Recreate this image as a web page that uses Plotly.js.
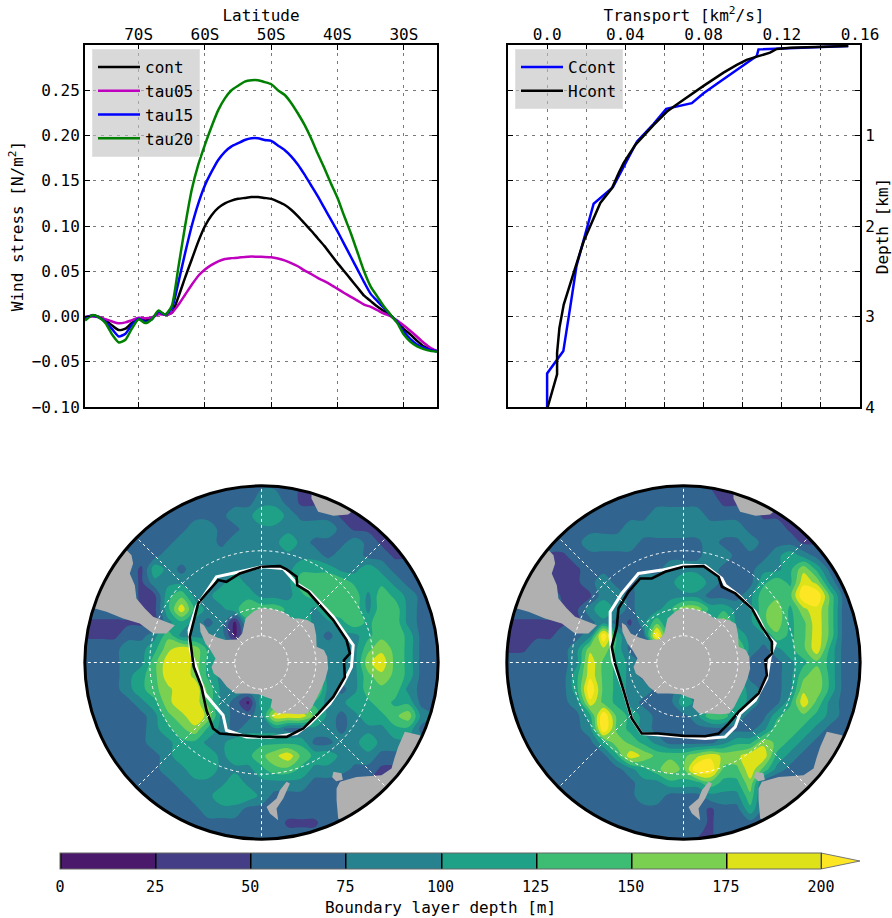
<!DOCTYPE html>
<html><head><meta charset="utf-8">
<script src="https://cdn.plot.ly/plotly-3.0.1.min.js"></script>
<style>html,body{margin:0;padding:0;background:#fff}</style></head>
<body><div id="c" style="width:892px;height:918px"></div>
<script>
// ---- wind stress panel ----
const lat=[-78.1,-77,-76,-75,-74,-73,-72,-71,-70,-69,-68,-67,-66,-65,-64,-63,-62,-61,-60,-59,-58,-57,-56,-55,-54,-53,-52,-51,-50,-49,-48,-47,-46,-45,-44,-43,-42,-41,-40,-39,-38,-37,-36,-35,-34,-33,-32,-31,-30,-29,-28,-27,-26,-25];
const cont=[-.001,.001,-.0005,-.004,-.01,-.015,-.0135,-.007,-.002,-.0045,-.002,.0045,.002,.004,.022,.043,.063,.083,.10,.112,.12,.125,.128,.13,.131,.132,.132,.131,.130,.127,.1235,.118,.111,.103,.095,.0865,.078,.0685,.059,.05,.041,.032,.023,.017,.011,.006,.001,-.006,-.014,-.02,-.027,-.033,-.036,-.0385];
const tau05=[-.0005,0,-.0005,-.003,-.0055,-.0075,-.0065,-.004,-.0015,-.002,-.001,.0025,.002,.004,.013,.024,.035,.045,.052,.057,.061,.0636,.0645,.065,.0658,.0662,.066,.0658,.0654,.064,.062,.059,.0555,.051,.047,.0426,.039,.035,.0305,.026,.0217,.0176,.013,.0107,.007,.0033,.0004,-.0044,-.01,-.016,-.0224,-.029,-.0345,-.038];
const tau15=[-.002,.001,-.001,-.006,-.014,-.022,-.019,-.009,-.0025,-.006,-.003,.0055,.002,.009,.038,.07,.10,.125,.145,.16,.173,.182,.188,.1915,.195,.197,.197,.195,.194,.189,.184,.177,.168,.157,.145,.133,.12,.107,.094,.08,.066,.052,.038,.025,.017,.0095,.0015,-.006,-.017,-.025,-.031,-.0345,-.037,-.0385];
const tau20=[-.0045,.0015,-.001,-.0073,-.02,-.0287,-.0257,-.013,-.003,-.0073,-.003,.0066,.002,.012,.055,.10,.14,.168,.19,.21,.228,.241,.25,.255,.2595,.261,.261,.259,.2566,.25,.245,.236,.2246,.212,.197,.18,.164,.147,.131,.111,.092,.071,.05,.033,.022,.011,.002,-.007,-.02,-.028,-.033,-.036,-.038,-.039];
const latTicks=[-70,-60,-50,-40,-30];
const latLabels=['70S','60S','50S','40S','30S'];
const stressTicks=[-.1,-.05,0,.05,.1,.15,.2,.25];
const stressLabels=['\u22120.10','\u22120.05','0.00','0.05','0.10','0.15','0.20','0.25'];
// ---- transport panel ----
const ccontX=[.154,.1174,.1081,.1072,.0979,.0885,.08,.074,.0609,.0545,.046,.0391,.0337,.0238,.0187,.015,.0119,.0083,0,0];
const ccontD=[.011,.037,.048,.121,.257,.404,.533,.643,.706,.871,1.066,1.342,1.57,1.754,2.15,2.445,2.886,3.382,3.629,4];
const hcontX=[.154,.1243,.1174,.114,.1072,.102,.097,.0902,.08,.0732,.0672,.0613,.0545,.0451,.0391,.0366,.0332,.0272,.0238,.0187,.0157,.0119,.0085,.0063,.0051,.0051,.0017,.0003];
const hcontD=[.011,.03,.044,.085,.129,.165,.22,.305,.452,.551,.643,.735,.882,1.103,1.305,1.415,1.581,1.746,1.912,2.169,2.371,2.647,2.868,3.125,3.4,3.64,3.88,4];
const transportTicks=[0,.04,.08,.12,.16];
const transportLabels=['0.0','0.04','0.08','0.12','0.16'];
const transportMinor=[.02,.06,.1,.14];
const depthTicks=[1,2,3,4];
const depthLabels=['1','2','3','4'];
const depthMinor=[.5,1.5,2.5,3.5];
// ---- maps: boundary layer depth [m] on a polar-stereographic grid ----
const gridX=[-13.5,-12,-11,-10,-9,-8,-7,-6,-5,-4,-3,-2,-1,0,1,2,3,4,5,6,7,8,9,10,11,12,13.5];
const gridY=gridX;
const depthLeft=[
[66,66,66,66,66,66,66,66,66,66,66,66,66,66,66,66,45,45,45,45,45,45,45,45,45,45,45],
[66,66,66,66,66,66,66,66,66,66,66,66,66,92,92,66,45,45,45,45,45,45,45,45,45,45,45],
[66,66,66,66,66,66,66,66,66,66,66,92,92,118,118,92,66,66,66,45,45,45,45,45,45,45,45],
[66,66,66,66,66,66,66,66,92,92,66,66,92,92,92,92,92,92,92,66,45,45,45,45,45,45,45],
[66,66,66,66,66,66,66,92,92,92,66,92,92,92,92,118,92,66,66,66,92,66,45,45,45,45,45],
[66,66,66,66,66,66,92,92,92,92,92,92,92,92,92,92,92,92,66,92,92,66,66,45,45,45,45],
[66,66,66,66,45,118,92,66,92,92,92,92,92,92,92,92,118,118,118,92,92,118,92,66,66,45,45],
[66,66,66,66,45,92,92,92,92,92,92,118,92,92,92,92,143,143,143,143,118,118,118,92,66,66,45],
[66,66,66,66,45,45,118,143,92,92,118,118,118,92,92,92,118,143,143,143,143,92,143,118,92,66,66],
[66,66,66,66,45,45,118,193,118,92,92,118,143,143,143,118,118,92,143,143,143,92,143,143,92,66,66],
[45,45,45,45,45,45,92,118,92,66,92,17,118,118,118,118,118,92,92,118,143,118,143,143,92,66,66],
[45,45,45,66,66,92,143,92,92,92,92,17,92,92,92,92,92,92,66,92,92,118,143,143,118,66,66],
[66,66,66,92,92,118,168,193,168,118,92,92,92,92,92,92,92,92,92,92,92,143,168,143,118,66,66],
[66,66,66,92,92,143,193,193,168,118,92,92,92,92,92,92,92,118,92,92,92,168,193,143,118,66,66],
[66,66,66,92,118,143,193,193,168,118,92,92,92,92,92,92,92,143,92,92,92,143,168,143,118,66,66],
[66,66,66,92,118,143,168,193,193,143,92,92,92,92,92,92,92,168,92,66,92,143,143,143,92,66,66],
[66,66,66,66,92,118,168,193,193,143,92,66,17,118,118,118,118,118,92,92,118,118,143,118,118,66,66],
[66,66,66,66,66,92,143,168,193,168,92,66,66,92,193,193,193,143,92,66,92,118,118,143,168,92,66],
[66,66,66,66,66,92,118,143,168,118,92,66,92,92,92,66,66,92,92,66,92,92,92,118,118,66,66],
[66,66,66,66,66,92,92,118,118,92,92,118,118,118,118,118,118,66,66,92,92,118,92,92,92,92,92],
[66,66,66,66,66,66,92,118,118,118,92,118,118,143,168,193,143,118,118,92,92,92,66,66,66,66,66],
[66,66,66,66,66,66,92,92,118,118,92,92,92,118,143,143,118,92,92,92,66,66,45,45,66,66,66],
[66,66,66,66,66,66,66,92,92,92,92,118,92,92,92,92,92,66,66,45,45,45,45,45,45,45,45],
[66,66,66,66,66,66,66,66,92,92,118,118,118,92,66,66,66,66,66,66,45,45,45,45,45,45,45],
[66,66,66,66,66,66,66,66,66,92,92,92,66,66,66,66,66,66,66,66,66,66,66,66,66,66,66],
[66,66,66,66,66,66,66,66,66,66,66,66,66,66,66,45,45,45,66,66,66,66,66,66,66,66,66],
[66,66,66,66,66,66,66,66,66,66,66,66,66,66,66,66,66,66,66,66,66,66,66,66,66,66,66]];
const depthRight=[
[66,66,66,66,66,66,66,66,66,66,66,66,66,66,66,45,45,45,45,45,45,45,45,45,45,45,45],
[66,66,66,66,66,66,66,66,66,66,66,66,66,66,66,66,45,45,45,45,45,45,45,45,45,45,45],
[66,66,66,66,66,66,66,66,66,66,66,92,92,92,92,66,66,66,66,45,45,45,45,45,45,45,45],
[66,66,66,66,66,66,66,66,66,92,92,92,92,92,92,92,92,92,66,66,66,45,45,45,45,45,45],
[66,66,66,66,66,66,92,92,92,92,66,66,66,66,66,92,66,66,92,66,66,66,45,45,45,45,45],
[66,66,66,45,45,66,66,66,66,66,66,66,66,66,66,92,92,66,66,66,92,118,92,66,45,45,45],
[66,66,66,45,45,45,66,66,66,66,66,66,92,92,92,92,66,66,66,92,92,118,168,118,66,45,45],
[66,66,66,45,45,45,66,92,66,66,92,92,92,118,118,92,66,66,66,118,143,118,193,168,92,45,45],
[66,66,66,66,45,45,45,92,92,66,92,92,92,92,92,66,66,66,92,143,143,143,225,225,143,66,45],
[66,66,66,66,45,45,92,118,92,66,92,92,118,168,168,118,118,92,92,143,168,118,168,193,143,66,45],
[45,45,45,45,45,45,66,92,66,45,92,143,92,92,92,92,168,92,92,143,168,118,143,193,143,66,45],
[45,45,45,45,66,66,92,225,118,66,66,225,92,92,92,92,92,118,92,92,143,118,143,193,143,66,45],
[45,45,66,66,66,92,168,168,118,66,66,66,92,92,92,92,92,168,92,66,92,118,143,193,118,66,45],
[66,66,66,66,66,92,193,143,118,92,66,66,66,92,92,92,92,143,66,66,66,92,118,143,118,66,66],
[66,66,66,66,66,118,193,143,118,92,66,66,66,92,92,92,92,118,66,66,66,92,143,168,118,66,66],
[66,66,66,66,66,118,225,143,118,92,92,66,66,92,92,92,92,118,92,66,66,92,168,168,118,66,66],
[66,66,66,66,66,92,193,143,118,92,66,66,66,118,92,92,92,118,92,66,66,118,193,143,92,66,66],
[66,66,66,66,66,66,118,225,143,118,92,66,66,66,92,143,143,92,66,66,118,143,143,118,92,66,66],
[66,66,66,66,66,66,92,225,143,118,92,66,66,66,66,66,66,66,66,92,143,143,118,92,66,66,66],
[66,66,66,66,66,66,66,118,168,143,118,92,66,66,66,66,92,118,118,168,143,118,92,66,66,66,66],
[66,66,66,66,66,66,66,66,118,193,168,143,143,143,168,193,168,168,193,193,118,92,66,66,66,66,66],
[66,66,66,66,66,66,66,66,66,92,118,143,168,143,225,225,143,143,193,143,92,66,66,66,66,66,66],
[66,66,66,66,66,66,66,66,66,66,92,92,118,118,118,143,118,118,168,66,45,45,45,45,45,45,45],
[66,66,66,66,66,66,66,66,66,66,92,92,66,66,66,92,92,92,143,66,45,45,45,45,45,45,45],
[66,66,66,66,66,66,66,66,66,66,66,66,66,66,66,45,66,66,118,66,66,66,66,66,66,66,66],
[66,66,66,66,66,66,66,66,66,66,66,66,66,66,66,45,66,66,66,66,66,66,66,66,66,66,66],
[66,66,66,66,66,66,66,66,66,66,66,45,45,45,45,45,66,66,66,66,66,66,66,66,66,66,66]];
const levelColors=['#4a196c','#433e85','#31648e','#26828e','#1fa187','#3dbc74','#7ad151','#dde318','#fde725'];
const barTicks=[0,25,50,75,100,125,150,175,200];
// coastlines, map units
const antX=[0,.93,1.68,2.3,2.8,3.43,3.93,4.1,4.13,4.68,4.93,5,4.8,4.55,4.18,3.8,3.43,2.8,1.93,1.18,.68,.8,.3,-.2,-1.08,-1.95,-2.58,-3.08,-3.58,-3.75,-3.45,-3.83,-4.2,-4.58,-4.63,-4.33,-3.95,-3.33,-2.7,-1.83,-1.45,-1.2,-.58,0];
const antY=[-4.08,-3.98,-3.78,-3.3,-3.3,-3.18,-2.88,-2.05,-1.18,-.93,-.43,.45,1.2,1.83,2.58,3.33,3.83,3.88,3.83,3.83,3.33,2.75,2.58,2.38,2.33,2.33,1.83,1.2,.83,.33,-.3,-.93,-1.43,-2.3,-2.98,-2.8,-2.18,-1.88,-1.68,-1.73,-2.18,-3.3,-3.85,-4.08];
const samX=[-12.5,-11.63,-10.38,-9.13,-8.13,-7.13,-6.5,-7.13,-8.13,-8.75,-9.38,-9.5,-9.88,-9.63,-9.75,-10.13,-11.88,-13.88];
const samY=[-4.05,-3.8,-3.3,-2.93,-2.18,-2.18,-2.8,-3.05,-3.43,-4.05,-4.8,-5.8,-6.68,-7.43,-8.05,-8.43,-7.68,-3.93];
const afrX=[3.75,4.25,5.4,6.5,7.6,5.1,3.75];
const afrY=[-12.3,-11.3,-11,-11.1,-12,-13.7,-13];
const ausX=[5.88,7.13,9,9.75,10,10.25,10.75,11.88,13.88,10.63,5.75,5.63,5.63];
const ausY=[8.95,8.58,8.45,7.95,7.08,6.33,5.2,5.45,7.08,13.58,11.7,10.33,9.45];
const tasX=[5.4,6,6.1,5.6,5.3];
const tasY=[8.2,8.3,8.8,8.9,8.6];
const nzX=[1.88,1.38,1.13,.38,.63,1.25,1.13,1.63,2.13];
const nzY=[8.95,9.58,10.2,10.83,11.33,11.83,10.95,10.2,9.08];
// ACC streamlines
const blackLX=[0,1.38,1.88,2.63,2.68,3.5,4.38,5.38,6.38,6.63,6.18,6.25,5.38,4.25,3.13,1.88,0,-1.88,-3.13,-3.63,-4.13,-4.5,-5.08,-5.25,-5.38,-5,-4.75,-4.13,-3.25,-2.63,-1.63,0];
const blackLY=[-7.18,-7.23,-6.98,-6.43,-5.8,-5.3,-4.3,-3.18,-1.68,-.68,-.18,1.08,2.58,3.83,4.95,5.58,5.58,5.45,5.33,4.95,3.58,1.83,.33,-.93,-1.93,-3.43,-4.43,-5.18,-6.18,-6.05,-6.68,-7.18];
const whiteLX=[-1.63,0,1.63,2.63,3.63,5.38,6.88,6.75,6.13,5.13,3.63,2.63,.63,-1.13,-2.63,-2.88,-3.63,-4.25,-4.75,-5.33,-5.43,-4.88,-4.13,-3.38,-1.63];
const whiteLY=[-6.8,-7.18,-7.05,-5.93,-5.3,-3.43,-1.3,.33,1.58,3.08,4.58,5.33,5.63,5.58,5.08,3.95,3.08,2.33,.83,-.93,-2.43,-4.18,-5.3,-6.43,-6.8];
const blackRX=[0,1.5,2.63,2.88,3.88,5.13,5.88,6.63,6.63,6.13,6.25,5.63,4.13,3.38,2.63,1.63,0,-1.88,-3.13,-3.88,-4.5,-5.13,-5.38,-5,-4.88,-4.13,-3.25,-2.38,-1.38,0];
const blackRY=[-7.18,-7.23,-6.43,-5.68,-5.18,-4.05,-2.68,-1.55,-.68,-.18,.95,2.33,3.7,4.58,5.33,5.53,5.5,5.33,5.33,4.2,2.08,.08,-1.18,-2.68,-4.05,-5.3,-6.3,-6.3,-6.8,-7.18];
const whiteRX=[0,1.63,2.88,3.13,4.13,5.38,6.25,6.88,6.5,6.25,5.38,4.25,3.88,3.13,1.63,0,-1.88,-3.13,-3.88,-4.5,-5.33,-5.5,-5.5,-4.63,-3.38,-1.63,0];
const whiteRY=[-7.3,-7.25,-6.3,-5.8,-5.05,-3.8,-2.05,-1.43,-.43,1.2,2.83,3.83,4.83,5.58,5.7,5.58,5.4,5.33,4.2,2.08,-.18,-1.93,-3.8,-5.18,-6.68,-6.93,-7.3];
// graticule
const circleRadii=[2,4.08,8.38];
const meridians=[0,45,90,135,180,225,270,315];
const mapRadius=13.25;

const W=892,H=918,mono='"DejaVu Sans Mono"';
const dom=(a,b,s)=>[a/s,b/s];
const ydom=(a,b)=>[1-b/H,1-a/H];
// filled contour: region above level L takes the scale colour at (L+size/2), see Plotly's colour map
function bands(colors){const n=colors.length,out=[[0,colors[0]]];
 for(let k=1;k<n;k++){out.push([(k+.5)/n,colors[k-1]]);out.push([(k+.5)/n,colors[k]]);}
 out.push([1,colors[n-1]]);return out;}
const gridStyle={showgrid:true,gridcolor:'#7a7a7a',griddash:'3px,5px',gridwidth:1};
const axBase={showline:true,linecolor:'#000',linewidth:2,mirror:'allticks',ticks:'inside',ticklen:5,tickwidth:1,tickcolor:'#000',
 ...gridStyle,zeroline:false,tickfont:{family:mono,size:16,color:'#000'},tickmode:'array'};
const minorAxis=v=>({tickmode:'array',tickvals:v,ticks:'inside',ticklen:5,tickwidth:1,tickcolor:'#000',...gridStyle});
const line=(x,y,name,color,xa,ya,lg,shape)=>({type:'scatter',mode:'lines',x,y,name,xaxis:xa,yaxis:ya,legend:lg,line:{color,width:2.5,shape:shape||'linear',smoothing:.6},hoverinfo:'skip'});
const traces=[
 line(lat,cont,'cont','#000','x','y','legend','spline'),
 line(lat,tau05,'tau05','#bf00bf','x','y','legend','spline'),
 line(lat,tau15,'tau15','#0000ff','x','y','legend','spline'),
 line(lat,tau20,'tau20','#008000','x','y','legend','spline'),
 line(ccontX,ccontD,'Ccont','#0000ff','x2','y2','legend2'),
 line(hcontX,hcontD,'Hcont','#000','x2','y2','legend2'),
];
// colour-bar carrier: same field, levels 0-175 so the bar spans exactly 0-200 with level lines (hidden under the map)
traces.push({type:'contour',x:gridX,y:gridY,z:depthLeft,xaxis:'x3',yaxis:'y3',zmin:0,zmax:200,autocontour:false,
 contours:{coloring:'fill',start:0,end:175,size:25,showlines:true},line:{width:1.5,color:'#000'},colorscale:bands(levelColors.slice(0,8)),showscale:true,hoverinfo:'skip',
 colorbar:{orientation:'h',x:60/W,xanchor:'left',y:1-853/H,yanchor:'top',len:761,lenmode:'pixels',thickness:16,thicknessmode:'pixels',xpad:0,ypad:0,
   tickmode:'array',tickvals:barTicks,ticktext:barTicks.map(String),ticks:'outside',ticklen:5,tickwidth:1,tickcolor:'#fff',outlinecolor:'#666',outlinewidth:1,
   tickfont:{family:mono,size:15,color:'#000'},title:{text:'Boundary layer depth [m]',side:'bottom',font:{family:mono,size:16,color:'#000'}}}});
function map(z,xa,ya,blackX,blackY,whiteX,whiteY){
 traces.push({type:'contour',x:gridX,y:gridY,z,xaxis:xa,yaxis:ya,zmin:0,zmax:225,autocontour:false,
  contours:{coloring:'fill',start:0,end:200,size:25,showlines:false},line:{width:0,smoothing:1},colorscale:bands(levelColors),showscale:false,hoverinfo:'skip'});
 [[antX,antY],[samX,samY],[afrX,afrY],[ausX,ausY],[tasX,tasY],[nzX,nzY]].forEach(p=>traces.push({type:'scatter',mode:'lines',x:p[0],y:p[1],xaxis:xa,yaxis:ya,fill:'toself',fillcolor:'#b0b0b0',line:{width:0,color:'#b0b0b0'},showlegend:false,hoverinfo:'skip'}));
 traces.push({type:'scatter',mode:'lines',x:whiteX,y:whiteY,xaxis:xa,yaxis:ya,line:{color:'#fff',width:3},showlegend:false,hoverinfo:'skip'});
 traces.push({type:'scatter',mode:'lines',x:blackX,y:blackY,xaxis:xa,yaxis:ya,line:{color:'#000',width:2.6},showlegend:false,hoverinfo:'skip'});
}
map(depthLeft,'x3','y3',blackLX,blackLY,whiteLX,whiteLY);
map(depthRight,'x4','y4',blackRX,blackRY,whiteRX,whiteRY);
const shapes=[];
[['x3','y3'],['x4','y4']].forEach(([xr,yr])=>{
 circleRadii.forEach(r=>shapes.push({type:'circle',xref:xr,yref:yr,x0:-r,x1:r,y0:-r,y1:r,line:{color:'#fff',width:1,dash:'3px,3px'}}));
 meridians.forEach(a=>{const c=Math.cos(a*Math.PI/180),s=Math.sin(a*Math.PI/180),r0=circleRadii[0];
  shapes.push({type:'line',xref:xr,yref:yr,x0:r0*c,y0:r0*s,x1:mapRadius*c,y1:mapRadius*s,line:{color:'#fff',width:1,dash:'3px,3px'}});});
 shapes.push({type:'circle',xref:xr,yref:yr,x0:-16.2,x1:16.2,y0:-16.2,y1:16.2,line:{color:'#fff',width:80}});
 shapes.push({type:'circle',xref:xr,yref:yr,x0:-mapRadius,x1:mapRadius,y0:-mapRadius,y1:mapRadius,line:{color:'#000',width:3}});
});
// colour-bar extension arrow and its closing separator at 200
shapes.push({type:'path',xref:'paper',yref:'paper',path:`M ${821/W} ${1-853/H} L ${860/W} ${1-861/H} L ${821/W} ${1-869/H} Z`,fillcolor:'#fde725',line:{color:'#777',width:1}});
shapes.push({type:'line',xref:'paper',yref:'paper',x0:821/W,x1:821/W,y0:1-853/H,y1:1-869/H,line:{color:'#000',width:1.5}});
const legBase={bgcolor:'rgba(191,191,191,.6)',bordercolor:'#e2e2e2',borderwidth:1,font:{family:mono,size:16,color:'#000'},xanchor:'left',yanchor:'top',itemwidth:42,itemclick:false,itemdoubleclick:false};
const hidden={visible:false,showgrid:false,zeroline:false,fixedrange:true};
const titleFont={family:mono,size:16,color:'#000'};
const layout={width:W,height:H,autosize:false,margin:{l:0,r:0,t:0,b:0,pad:0},paper_bgcolor:'#fff',plot_bgcolor:'#fff',font:{family:mono,size:16,color:'#000'},
 xaxis:{...axBase,domain:dom(85,437,W),anchor:'y',side:'top',range:[-78.1,-25],tickvals:latTicks,ticktext:latLabels,ticklabelstandoff:-3,title:{text:'Latitude',font:titleFont,standoff:1}},
 yaxis:{...axBase,domain:ydom(45,407),anchor:'x',range:[-.1,.3],tickvals:stressTicks,ticktext:stressLabels,minor:minorAxis([.3]),title:{text:'Wind stress [N/m<sup>2</sup>]',font:titleFont,standoff:4}},
 xaxis2:{...axBase,domain:dom(508,860,W),anchor:'y2',side:'top',range:[-.02,.16],tickvals:transportTicks,ticktext:transportLabels,minor:minorAxis(transportMinor),ticklabelstandoff:-3,title:{text:'Transport [km<sup>2</sup>/s]',font:titleFont,standoff:1}},
 yaxis2:{...axBase,domain:ydom(45,407),anchor:'x2',side:'right',range:[4,0],tickvals:depthTicks,ticktext:depthLabels,minor:minorAxis(depthMinor),title:{text:'Depth [km]',font:titleFont,standoff:12}},
 xaxis3:{...hidden,domain:dom(81,442,W),anchor:'y3',range:[-13.5375,13.5375]},
 yaxis3:{...hidden,domain:ydom(482,843),anchor:'x3',range:[13.5375,-13.5375]},
 xaxis4:{...hidden,domain:dom(503,864,W),anchor:'y4',range:[-13.5375,13.5375]},
 yaxis4:{...hidden,domain:ydom(482,843),anchor:'x4',range:[13.5375,-13.5375]},
 legend:{...legBase,x:92/W,y:1-49/H},
 legend2:{...legBase,x:515/W,y:1-49/H},
 shapes,showlegend:true};
Plotly.newPlot('c',traces,layout,{staticPlot:true,displayModeBar:false}).then(()=>{
 document.querySelectorAll('.xtitle,.x2title').forEach(t=>t.setAttribute('transform','translate(0,2)'));
});
</script></body></html>
